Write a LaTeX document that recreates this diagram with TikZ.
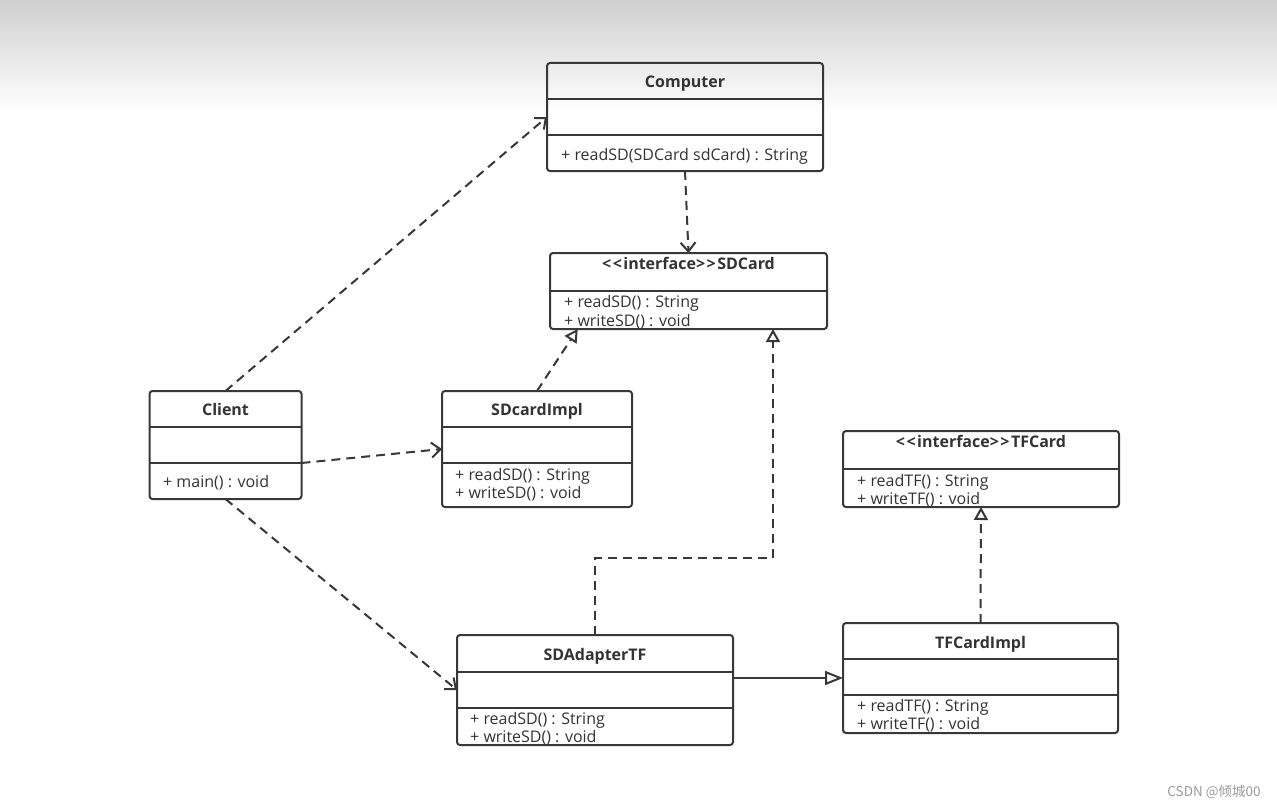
\documentclass[tikz,border=0pt]{standalone}
\usepackage{fontspec}
\setmainfont{Open Sans}
\newfontfamily\cjk{Noto Sans CJK SC}
\usetikzlibrary{arrows.meta,calc}
\definecolor{lc}{HTML}{383838}
\definecolor{tc}{HTML}{333333}
\definecolor{wm}{HTML}{9A9A9A}
\definecolor{topgray}{RGB}{207,207,207}
\newcommand{\lt}{<\kern1.5pt}
\newcommand{\gt}{>\kern1.5pt}
\begin{document}
\begin{tikzpicture}[x=1pt,y=-1pt,
 cls/.style={draw=lc, line width=2pt, rounded corners=3pt, inner sep=0pt, outer sep=0pt},
 divline/.style={draw=lc, line width=2pt},
 ttl/.style={font=\bfseries\fontsize{16}{19}\selectfont, text=tc, inner sep=0pt, anchor=mid},
 mth/.style={font=\fontsize{16}{19}\selectfont, text=tc, inner sep=0pt, anchor=mid west},
 conn/.style={draw=lc, line width=2pt},
 dsh/.style={dash pattern=on 9pt off 6pt},
 dep/.style={conn, dsh, -{Straight Barb[length=9pt,width=15pt,line width=2pt]}},
 real/.style={conn, dsh, -{Triangle[open,length=13pt,width=14pt,line width=2pt]}},
 gen/.style={conn, -{Triangle[open,length=18pt,width=14pt,line width=2pt]}},
]
\useasboundingbox (0,0) rectangle (1277,808);
\fill[white] (0,0) rectangle (1277,808);
\shade[top color=topgray, bottom color=white] (0,0) rectangle (1277,112);

% Computer
\node[cls, minimum width=276pt, minimum height=108pt] (comp) at (685,117) {};
\draw[divline] ($(comp.north west)+(0,36)$) -- ($(comp.north east)+(0,36)$);
\draw[divline] ($(comp.north west)+(0,72)$) -- ($(comp.north east)+(0,72)$);
\node[ttl] (compT) at (685,85) {Computer};
\node[mth] (compM1) at (561,158) {+ readSD(SDCard sdCard) : String};

% SDCard interface
\node[cls, minimum width=277pt, minimum height=76pt] (sdc) at (688.5,291) {};
\draw[divline] ($(sdc.north west)+(0,38)$) -- ($(sdc.north east)+(0,38)$);
\node[ttl] (sdcT) at (688.5,267) {\lt\lt interface\gt\gt SDCard};
\node[mth] (sdcM1) at (564,305) {+ readSD() : String};
\node[mth] (sdcM2) at (564,324) {+ writeSD() : void};

% Client
\node[cls, minimum width=152pt, minimum height=108pt] (cli) at (225.5,445) {};
\draw[divline] ($(cli.north west)+(0,36)$) -- ($(cli.north east)+(0,36)$);
\draw[divline] ($(cli.north west)+(0,72)$) -- ($(cli.north east)+(0,72)$);
\node[ttl] (cliT) at (225.5,413) {Client};
\node[mth] (cliM1) at (163,485) {+ main() : void};

% SDcardImpl
\node[cls, minimum width=190pt, minimum height=116pt] (sdi) at (537,449) {};
\draw[divline] ($(sdi.north west)+(0,36)$) -- ($(sdi.north east)+(0,36)$);
\draw[divline] ($(sdi.north west)+(0,72)$) -- ($(sdi.north east)+(0,72)$);
\node[ttl] (sdiT) at (537,413) {SDcardImpl};
\node[mth] (sdiM1) at (455,478) {+ readSD() : String};
\node[mth] (sdiM2) at (455,496) {+ writeSD() : void};

% TFCard interface
\node[cls, minimum width=276pt, minimum height=76pt] (tfc) at (981,469) {};
\draw[divline] ($(tfc.north west)+(0,38)$) -- ($(tfc.north east)+(0,38)$);
\node[ttl] (tfcT) at (981,445) {\lt\lt interface\gt\gt TFCard};
\node[mth] (tfcM1) at (857,484) {+ readTF() : String};
\node[mth] (tfcM2) at (857,502) {+ writeTF() : void};

% SDAdapterTF
\node[cls, minimum width=276pt, minimum height=110pt] (ada) at (595,690) {};
\draw[divline] ($(ada.north west)+(0,37)$) -- ($(ada.north east)+(0,37)$);
\draw[divline] ($(ada.north west)+(0,73)$) -- ($(ada.north east)+(0,73)$);
\node[ttl] (adaT) at (595,658) {SDAdapterTF};
\node[mth] (adaM1) at (470,722) {+ readSD() : String};
\node[mth] (adaM2) at (470,740) {+ writeSD() : void};

% TFCardImpl
\node[cls, minimum width=275pt, minimum height=110pt] (tfi) at (980.5,678) {};
\draw[divline] ($(tfi.north west)+(0,36)$) -- ($(tfi.north east)+(0,36)$);
\draw[divline] ($(tfi.north west)+(0,72)$) -- ($(tfi.north east)+(0,72)$);
\node[ttl] (tfiT) at (980.5,646) {TFCardImpl};
\node[mth] (tfiM1) at (857,709) {+ readTF() : String};
\node[mth] (tfiM2) at (857,727) {+ writeTF() : void};

% connectors
\draw[dep] (cli.north) -- (comp.west);
\draw[dep] (comp.south) -- (sdc.north);
\draw[real] (sdi.north) -- ($(sdc.south west)!0.1!(sdc.south east)$);
\draw[dep] ($(cli.east)+(0,18)$) -- (sdi.west);
\draw[dep] (cli.south) -- (ada.west);
\draw[real] (ada.north) -- ++(0,-77) -| ($(sdc.south west)!0.805!(sdc.south east)$);
\draw[gen] (ada.east |- tfi.west) -- (tfi.west);
\draw[real] (tfi.north) -- (tfc.south);

% watermark
\node[font=\cjk\fontsize{13.5}{16}\selectfont, text=wm, inner sep=0pt, anchor=mid] (wmark) at (1214,794) {CSDN @倾城00};
\end{tikzpicture}
\end{document}
